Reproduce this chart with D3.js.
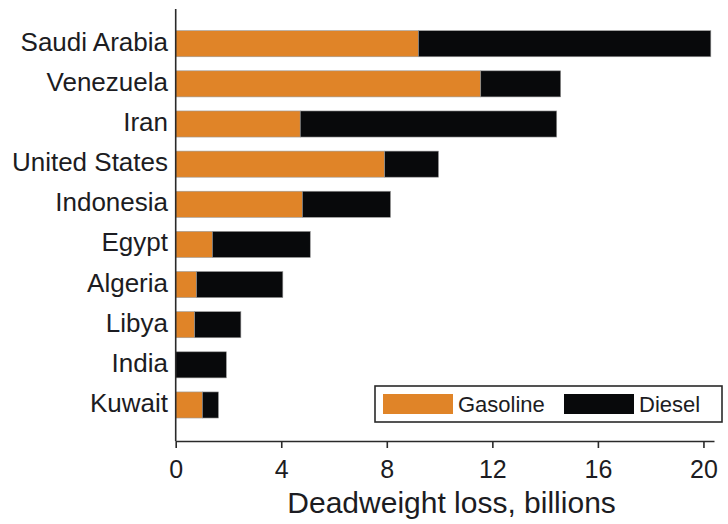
<!DOCTYPE html>
<html>
<head>
<meta charset="utf-8">
<script src="https://cdn.jsdelivr.net/npm/d3@7"></script>
<style>
  html, body { margin: 0; padding: 0; background: #fff; }
  svg { display: block; }
  text { font-family: "Liberation Sans", Arial, Helvetica, sans-serif; fill: #1c1c22; }
</style>
</head>
<body>
<svg id="chart" width="728" height="524"></svg>
<script>
// Deadweight loss from fuel subsidies, billions
const countries = ["Saudi Arabia", "Venezuela", "Iran", "United States", "Indonesia",
                   "Egypt", "Algeria", "Libya", "India", "Kuwait"];
const gasoline = [9.2, 11.56, 4.72, 7.92, 4.8, 1.39, 0.79, 0.72, 0.0, 1.01];
const diesel   = [11.08, 3.03, 9.72, 2.04, 3.34, 3.71, 3.27, 1.75, 1.92, 0.61];
const seriesNames = ["Gasoline", "Diesel"];
const seriesColors = ["#e08428", "#08090b"];
const xTicks = [0, 4, 8, 12, 16, 20];
const xTitle = "Deadweight loss, billions";

const svg = d3.select("#chart");

const x = d3.scaleLinear().domain([0, 20.4]).range([175.7, 714]);
const y = d3.scaleBand().domain(countries).range([23.65, 425.05])
  .paddingInner(0.35).paddingOuter(0.175);

const rows = countries.map((c, i) => ({ country: c, Gasoline: gasoline[i], Diesel: diesel[i] }));
const stacked = d3.stack().keys(seriesNames)(rows);

// stacked bars
svg.append("g").selectAll("g")
  .data(stacked)
  .join("g")
  .attr("fill", (d, i) => seriesColors[i])
  .selectAll("rect")
  .data(d => d.filter(p => p[1] - p[0] > 0))
  .join("rect")
  .attr("x", d => x(d[0]))
  .attr("width", d => x(d[1]) - x(d[0]))
  .attr("y", d => y(d.data.country))
  .attr("height", y.bandwidth())
  .attr("stroke", "#9a9a9a")
  .attr("stroke-width", 0.6);

// category labels
svg.append("g").selectAll("text")
  .data(countries)
  .join("text")
  .attr("x", 168)
  .attr("y", d => y(d) + y.bandwidth() / 2 + 7)
  .attr("text-anchor", "end")
  .attr("font-size", 26)
  .text(d => d);

// vertical axis line
svg.append("line")
  .attr("x1", x(0)).attr("x2", x(0))
  .attr("y1", 9).attr("y2", 441)
  .attr("stroke", "#2a2a2a").attr("stroke-width", 1.6);

// x axis
const xAxis = d3.axisBottom(x).tickValues(xTicks).tickSize(7).tickPadding(12).tickSizeOuter(0);
const gx = svg.append("g").attr("transform", "translate(0,441)").call(xAxis);
gx.select(".domain").attr("stroke", "#2a2a2a").attr("stroke-width", 1.6);
gx.selectAll(".tick line").attr("stroke", "#2a2a2a").attr("stroke-width", 1.6);
gx.selectAll(".tick text")
  .attr("font-size", 25)
  .attr("font-family", "Liberation Sans, Arial, sans-serif")
  .attr("fill", "#1c1c22");

svg.append("text")
  .attr("x", (x(0) + x(20)) / 2 + 12)
  .attr("y", 513)
  .attr("text-anchor", "middle")
  .attr("font-size", 30)
  .text(xTitle);

// legend
const legend = svg.append("g");
legend.append("rect")
  .attr("x", 375).attr("y", 386).attr("width", 347).attr("height", 36)
  .attr("fill", "#fff").attr("stroke", "#2a2a2a").attr("stroke-width", 1.6);
const legendX = [383, 564];
seriesNames.forEach((name, i) => {
  legend.append("rect")
    .attr("x", legendX[i]).attr("y", 394).attr("width", 70).attr("height", 20)
    .attr("fill", seriesColors[i]);
  legend.append("text")
    .attr("x", legendX[i] + 75).attr("y", 412)
    .attr("font-size", 22)
    .text(name);
});
</script>
</body>
</html>
